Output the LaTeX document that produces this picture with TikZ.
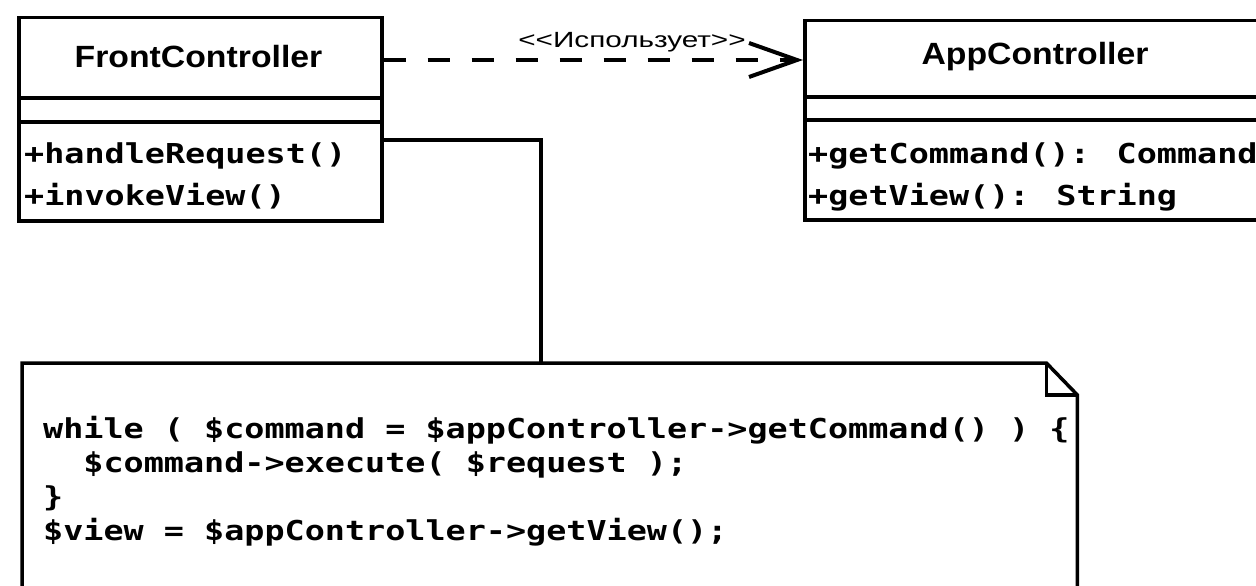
\documentclass[tikz,border=0pt]{standalone}
\usepackage{fontspec}
\usetikzlibrary{arrows.meta}
\newfontfamily\codefont[FakeStretch=1.22]{DejaVu Sans Mono}
\newfontfamily\titlefont[FakeStretch=1.1]{Liberation Sans}
\newfontfamily\labelfont[FakeStretch=1.35]{Liberation Sans}
\begin{document}
\begin{tikzpicture}[x=1pt,y=-1pt,
  umlbox/.style={draw, line width=3.5pt, fill=white, inner sep=0pt, anchor=north west},
  sepline/.style={line width=3.5pt},
  titletext/.style={font=\titlefont\bfseries\fontsize{30.7}{34}\selectfont, inner sep=0pt},
  codetext/.style={font=\codefont\bfseries\fontsize{27.4}{34}\selectfont, inner sep=0pt, anchor=base west},
  conn/.style={line width=3.5pt},
  dep/.style={line width=4pt, dash pattern=on 22pt off 22pt,
    -{Straight Barb[length=48pt, width=34pt, line width=4pt]}},
  lbltext/.style={font=\labelfont\fontsize{22}{26}\selectfont, inner sep=0pt, anchor=base}
]
\useasboundingbox (0,0) rectangle (1256,586);
\fill[white] (0,0) rectangle (1256,586);
\clip (0,0) rectangle (1256,586);

% FrontController
\node[umlbox, minimum width=363pt, minimum height=203pt] (fc) at (17,16) {};
\draw[sepline] (17,98) -- (380,98);
\draw[sepline] (17,122) -- (380,122);
\node[titletext] (fcname) at (198.5,57) {FrontController};
\node[codetext] (fcm1) at (24,163) {+handleRequest()};
\node[codetext] (fcm2) at (24,205) {+invokeView()};

% AppController
\node[umlbox, minimum width=464pt, minimum height=199pt] (ac) at (803,19) {};
\draw[sepline] (803,97) -- (1267,97);
\draw[sepline] (803,120) -- (1267,120);
\node[titletext] (acname) at (1035,57) {AppController};
\node[codetext] (acm1) at (808,163) {+getCommand(): Command};
\node[codetext] (acm2) at (808,205) {+getView(): String};

% Note
\node[anchor=north west, minimum width=1055pt, minimum height=260pt, inner sep=0pt] (note) at (22,363) {};
\draw[conn, fill=white, line join=miter]
  (note.south west) -- (note.north west) -- ([xshift=-31pt]note.north east)
  -- ([yshift=-32pt]note.north east) -- (note.south east);
\draw[conn, line join=miter]
  ([xshift=-31pt]note.north east) -- ([xshift=-31pt,yshift=-32pt]note.north east)
  -- ([yshift=-32pt]note.north east);
\node[codetext] (c1) at (43,438) {while ( \$command = \$appController->getCommand() ) \{};
\node[codetext] (c2) at (43,472) {\phantom{xx}\$command->execute( \$request );};
\node[codetext] (c3) at (43,506) {\}};
\node[codetext] (c4) at (43,540) {\$view = \$appController->getView();};

% connectors
\draw[conn] ([yshift=-124pt]fc.north east) -| ([xshift=519pt]note.north west);
\draw[dep] ([yshift=-44pt]fc.north east) -- ([yshift=-41pt]ac.north west);
\node[lbltext] (lbl) at (632,48) {<{}<Использует>{}>};
\end{tikzpicture}
\end{document}
